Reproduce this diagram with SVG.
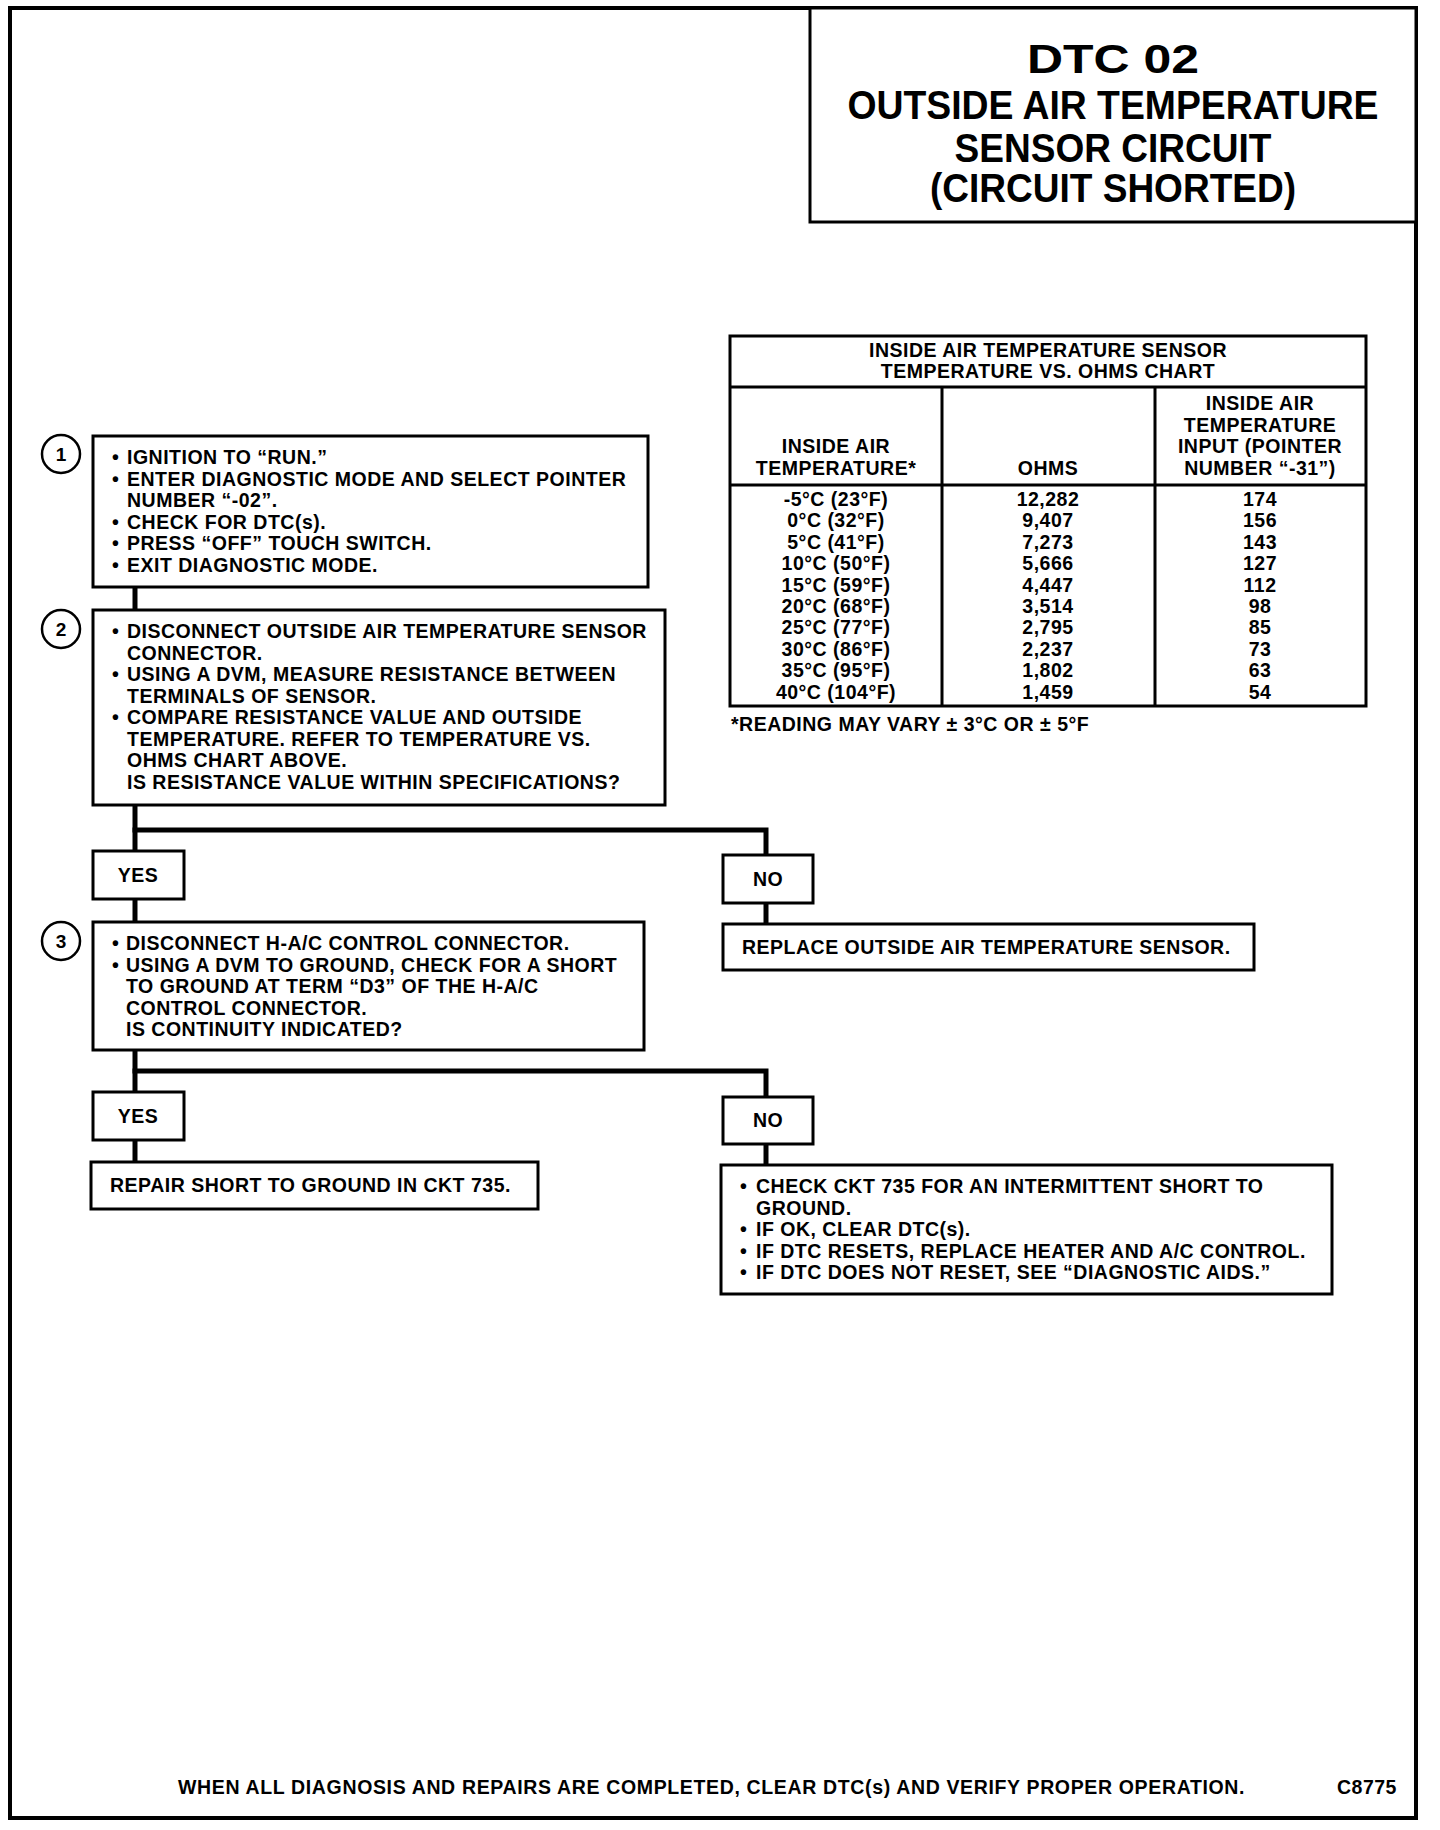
<svg xmlns="http://www.w3.org/2000/svg" width="1440" height="1830" viewBox="0 0 1440 1830">
<style>
.box{fill:#fff;stroke:#000;stroke-width:3}
.frame{fill:none;stroke:#000;stroke-width:4}
.conn{fill:none;stroke:#000;stroke-width:5;stroke-linecap:square}
.tl{fill:none;stroke:#000;stroke-width:3}
.t{font-family:"Liberation Sans",Arial,sans-serif;font-weight:bold;font-size:19.5px;letter-spacing:0.5px;fill:#000}
.c{text-anchor:middle}
.ttl{font-family:"Liberation Sans",Arial,sans-serif;font-weight:bold;font-size:40px;fill:#000;text-anchor:middle}
.num{font-family:"Liberation Sans",Arial,sans-serif;font-weight:bold;font-size:19px;fill:#000;text-anchor:middle}
.circ{fill:#fff;stroke:#000;stroke-width:2.5}
</style>
<rect width="1440" height="1830" fill="#fff"/>
<rect class="frame" x="10" y="8" width="1406" height="1810"/>

<g id="title">
<rect class="box" x="810" y="8" width="606" height="214" fill="none"/>
<text class="ttl" x="1113" y="73" font-size="50" textLength="172" lengthAdjust="spacingAndGlyphs">DTC 02</text>
<text class="ttl" x="1113" y="119" textLength="531" lengthAdjust="spacingAndGlyphs">OUTSIDE AIR TEMPERATURE</text>
<text class="ttl" x="1113" y="162" textLength="317" lengthAdjust="spacingAndGlyphs">SENSOR CIRCUIT</text>
<text class="ttl" x="1113" y="202" textLength="366" lengthAdjust="spacingAndGlyphs">(CIRCUIT SHORTED)</text>
</g>

<g id="chart">
<rect class="tl" x="730" y="336" width="636" height="370"/>
<line class="tl" x1="730" y1="387" x2="1366" y2="387"/>
<line class="tl" x1="730" y1="485" x2="1366" y2="485" stroke-width="4"/>
<line class="tl" x1="942" y1="387" x2="942" y2="706"/>
<line class="tl" x1="1155" y1="387" x2="1155" y2="706"/>
<text class="t c" x="1048" y="357">INSIDE AIR TEMPERATURE SENSOR</text>
<text class="t c" x="1048" y="378">TEMPERATURE VS. OHMS CHART</text>
<text class="t c" x="836" y="453">INSIDE AIR</text>
<text class="t c" x="836" y="475">TEMPERATURE*</text>
<text class="t c" x="1048" y="475">OHMS</text>
<text class="t c" x="1260" y="410">INSIDE AIR</text>
<text class="t c" x="1260" y="432">TEMPERATURE</text>
<text class="t c" x="1260" y="453">INPUT (POINTER</text>
<text class="t c" x="1260" y="475">NUMBER “-31”)</text>
<text class="t c" x="836" y="506">-5°C (23°F)</text>
<text class="t c" x="836" y="527.4">0°C (32°F)</text>
<text class="t c" x="836" y="548.8">5°C (41°F)</text>
<text class="t c" x="836" y="570.2">10°C (50°F)</text>
<text class="t c" x="836" y="591.6">15°C (59°F)</text>
<text class="t c" x="836" y="613">20°C (68°F)</text>
<text class="t c" x="836" y="634.4">25°C (77°F)</text>
<text class="t c" x="836" y="655.8">30°C (86°F)</text>
<text class="t c" x="836" y="677.2">35°C (95°F)</text>
<text class="t c" x="836" y="698.6">40°C (104°F)</text>
<text class="t c" x="1048" y="506">12,282</text>
<text class="t c" x="1048" y="527.4">9,407</text>
<text class="t c" x="1048" y="548.8">7,273</text>
<text class="t c" x="1048" y="570.2">5,666</text>
<text class="t c" x="1048" y="591.6">4,447</text>
<text class="t c" x="1048" y="613">3,514</text>
<text class="t c" x="1048" y="634.4">2,795</text>
<text class="t c" x="1048" y="655.8">2,237</text>
<text class="t c" x="1048" y="677.2">1,802</text>
<text class="t c" x="1048" y="698.6">1,459</text>
<text class="t c" x="1260" y="506">174</text>
<text class="t c" x="1260" y="527.4">156</text>
<text class="t c" x="1260" y="548.8">143</text>
<text class="t c" x="1260" y="570.2">127</text>
<text class="t c" x="1260" y="591.6">112</text>
<text class="t c" x="1260" y="613">98</text>
<text class="t c" x="1260" y="634.4">85</text>
<text class="t c" x="1260" y="655.8">73</text>
<text class="t c" x="1260" y="677.2">63</text>
<text class="t c" x="1260" y="698.6">54</text>
<text class="t" x="731" y="731">*READING MAY VARY ± 3°C OR ± 5°F</text>
</g>

<g id="connectors">
<line class="conn" x1="135" y1="587" x2="135" y2="610"/>
<polyline class="conn" points="135,805 135,851"/>
<polyline class="conn" points="135,830 766,830 766,855"/>
<line class="conn" x1="135" y1="899" x2="135" y2="922"/>
<line class="conn" x1="766" y1="903" x2="766" y2="924"/>
<polyline class="conn" points="135,1050 135,1092"/>
<polyline class="conn" points="135,1071 766,1071 766,1097"/>
<line class="conn" x1="135" y1="1140" x2="135" y2="1162"/>
<line class="conn" x1="766" y1="1144" x2="766" y2="1165"/>
</g>

<g id="step1">
<circle class="circ" cx="61" cy="454" r="19"/>
<text class="num" x="61" y="461">1</text>
<rect class="box" x="93" y="436" width="555" height="151"/>
<text class="t" x="112" y="464">•</text><text class="t" x="127" y="464">IGNITION TO “RUN.”</text>
<text class="t" x="112" y="485.5">•</text><text class="t" x="127" y="485.5">ENTER DIAGNOSTIC MODE AND SELECT POINTER</text>
<text class="t" x="127" y="507">NUMBER “-02”.</text>
<text class="t" x="112" y="528.5">•</text><text class="t" x="127" y="528.5">CHECK FOR DTC(s).</text>
<text class="t" x="112" y="550">•</text><text class="t" x="127" y="550">PRESS “OFF” TOUCH SWITCH.</text>
<text class="t" x="112" y="571.5">•</text><text class="t" x="127" y="571.5">EXIT DIAGNOSTIC MODE.</text>
</g>

<g id="step2">
<circle class="circ" cx="61" cy="629" r="19"/>
<text class="num" x="61" y="636">2</text>
<rect class="box" x="93" y="610" width="572" height="195"/>
<text class="t" x="112" y="638">•</text><text class="t" x="127" y="638">DISCONNECT OUTSIDE AIR TEMPERATURE SENSOR</text>
<text class="t" x="127" y="659.5">CONNECTOR.</text>
<text class="t" x="112" y="681">•</text><text class="t" x="127" y="681">USING A DVM, MEASURE RESISTANCE BETWEEN</text>
<text class="t" x="127" y="702.5">TERMINALS OF SENSOR.</text>
<text class="t" x="112" y="724">•</text><text class="t" x="127" y="724">COMPARE RESISTANCE VALUE AND OUTSIDE</text>
<text class="t" x="127" y="745.5">TEMPERATURE. REFER TO TEMPERATURE VS.</text>
<text class="t" x="127" y="767">OHMS CHART ABOVE.</text>
<text class="t" x="127" y="788.5">IS RESISTANCE VALUE WITHIN SPECIFICATIONS?</text>
</g>

<g id="yes1">
<rect class="box" x="93" y="851" width="91" height="48"/>
<text class="t c" x="138" y="882">YES</text>
</g>

<g id="no1">
<rect class="box" x="723" y="855" width="90" height="48"/>
<text class="t c" x="768" y="886">NO</text>
</g>

<g id="replace">
<rect class="box" x="723" y="924" width="531" height="46"/>
<text class="t" x="742" y="954">REPLACE OUTSIDE AIR TEMPERATURE SENSOR.</text>
</g>

<g id="step3">
<circle class="circ" cx="61" cy="941" r="19"/>
<text class="num" x="61" y="948">3</text>
<rect class="box" x="93" y="922" width="551" height="128"/>
<text class="t" x="112" y="950">•</text><text class="t" x="126" y="950">DISCONNECT H-A/C CONTROL CONNECTOR.</text>
<text class="t" x="112" y="971.5">•</text><text class="t" x="126" y="971.5">USING A DVM TO GROUND, CHECK FOR A SHORT</text>
<text class="t" x="126" y="993">TO GROUND AT TERM “D3” OF THE H-A/C</text>
<text class="t" x="126" y="1014.5">CONTROL CONNECTOR.</text>
<text class="t" x="126" y="1036">IS CONTINUITY INDICATED?</text>
</g>

<g id="yes2">
<rect class="box" x="93" y="1092" width="91" height="48"/>
<text class="t c" x="138" y="1123">YES</text>
</g>

<g id="no2">
<rect class="box" x="723" y="1097" width="90" height="47"/>
<text class="t c" x="768" y="1127">NO</text>
</g>

<g id="repair">
<rect class="box" x="91" y="1162" width="447" height="47"/>
<text class="t" x="110" y="1192">REPAIR SHORT TO GROUND IN CKT 735.</text>
</g>

<g id="intermittent">
<rect class="box" x="721" y="1165" width="611" height="129"/>
<text class="t" x="740" y="1193">•</text><text class="t" x="756" y="1193">CHECK CKT 735 FOR AN INTERMITTENT SHORT TO</text>
<text class="t" x="756" y="1214.5">GROUND.</text>
<text class="t" x="740" y="1236">•</text><text class="t" x="756" y="1236">IF OK, CLEAR DTC(s).</text>
<text class="t" x="740" y="1257.5">•</text><text class="t" x="756" y="1257.5">IF DTC RESETS, REPLACE HEATER AND A/C CONTROL.</text>
<text class="t" x="740" y="1279">•</text><text class="t" x="756" y="1279">IF DTC DOES NOT RESET, SEE “DIAGNOSTIC AIDS.”</text>
</g>

<g id="footer">
<text class="t" x="178" y="1794" textLength="1067" lengthAdjust="spacing">WHEN ALL DIAGNOSIS AND REPAIRS ARE COMPLETED, CLEAR DTC(s) AND VERIFY PROPER OPERATION.</text>
<text class="t" x="1337" y="1794">C8775</text>
</g>
</svg>
